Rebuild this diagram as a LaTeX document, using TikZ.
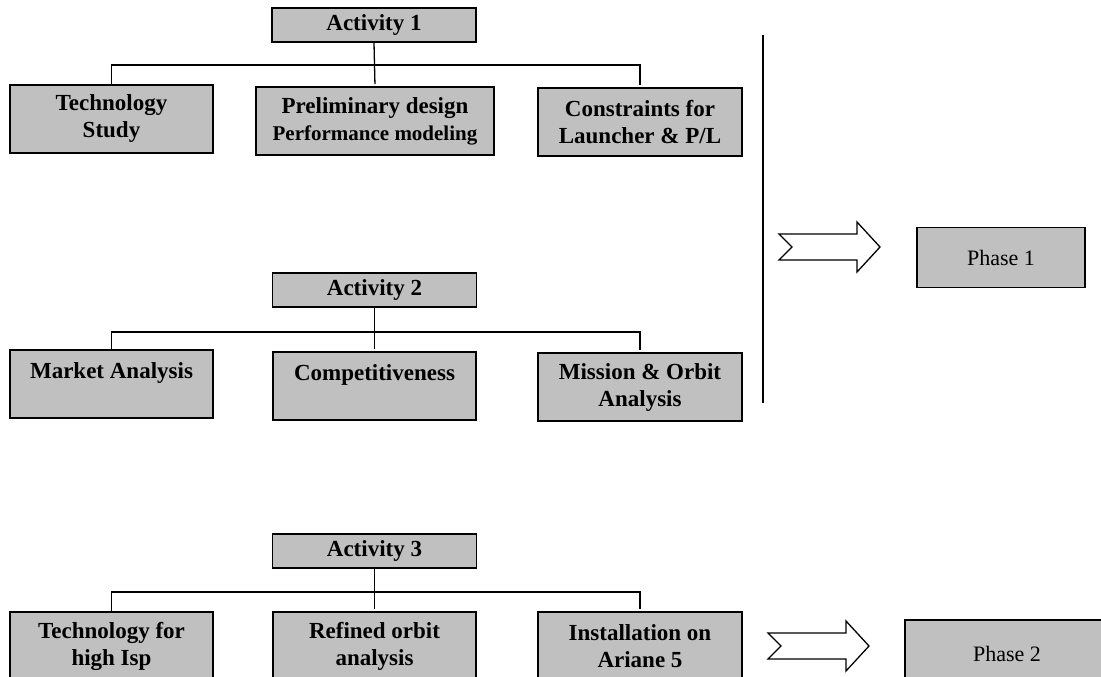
\documentclass[tikz,border=0pt]{standalone}
\usepackage{fontspec}
\setmainfont{Liberation Serif}
\usepackage{tikz}

\definecolor{boxgray}{HTML}{C0C0C0}

\tikzset{
    actbox/.style={draw, fill=boxgray, line width=1.6pt, inner sep=0pt,
        minimum width=204pt, minimum height=34pt,
        font=\bfseries\fontsize{23}{27}\selectfont},
    taskbox/.style={draw, fill=boxgray, line width=1.6pt, inner sep=0pt,
        minimum width=204pt, minimum height=68pt, align=center,
        font=\bfseries\fontsize{23}{27}\selectfont},
    phasebox/.style={draw, fill=boxgray, line width=1.4pt, inner sep=0pt,
        minimum height=60pt, font=\fontsize{22}{27}\selectfont},
    tree/.style={line width=1.3pt, shorten >=2pt},
    fatarrow/.pic={
        \draw[line width=1.3pt, fill=white, line join=miter]
            (0,-13) -- (78,-13) -- (78,-25) -- (101,0) -- (78,25)
            -- (78,13) -- (0,13) -- (13,0) -- cycle;
    }
}

\begin{document}
\begin{tikzpicture}[x=1pt,y=-1pt]
                \useasboundingbox (0,0) rectangle (1101,677);

                % activity 1
                \node[actbox] (act1) at (374,25) {Activity 1};
                \node[taskbox, minimum width=203pt] (techstudy) at (111.5,119) {Technology\\Study};
                \node[taskbox, minimum width=238pt] (prelim) at (375,121)
                    {Preliminary design\\{\fontsize{21}{27}\selectfont Performance modeling}};
                \node[taskbox] (constr) at (640,122) {Constraints for\\Launcher \& P/L};
                \coordinate (bar1) at (374,65);
                \draw[tree] (act1.south) -- (prelim.north);
                \draw[tree] (techstudy.north) |- (bar1) -| (constr.north);

                % activity 2
                \node[actbox] (act2) at (374.5,290) {Activity 2};
                \node[taskbox, minimum width=203pt] (market) at (111.5,384) {Market Analysis\\\mbox{}};
                \node[taskbox, minimum width=203pt] (compet) at (374.5,386) {Competitiveness\\\mbox{}};
                \node[taskbox] (mission) at (640,387) {Mission \& Orbit\\Analysis};
                \coordinate (bar2) at (374.5,332);
                \draw[tree] (act2.south) -- (compet.north);
                \draw[tree] (market.north) |- (bar2) -| (mission.north);

                % separator and phase 1
                \draw[line width=1.3pt] (763,35) -- (763,403);
                \pic at (779,247) {fatarrow};
                \node[phasebox, minimum width=168pt] (phase1) at (1001,257.5) {Phase 1};

                % activity 3
                \node[actbox] (act3) at (374.5,551) {Activity 3};
                \node[taskbox, minimum width=203pt] (techisp) at (111.5,646) {Technology for\\high Isp};
                \node[taskbox, minimum width=203pt] (refined) at (374.5,646) {Refined orbit\\analysis};
                \node[taskbox] (install) at (640,646) {Installation on\\Ariane 5};
                \coordinate (bar3) at (374.5,592);
                \draw[tree] (act3.south) -- (refined.north);
                \draw[tree] (techisp.north) |- (bar3) -| (install.north);

                % phase 2
                \pic at (768,646) {fatarrow};
                \node[phasebox, minimum width=204pt, minimum height=68pt] (phase2) at (1007,654) {Phase 2};
            \end{tikzpicture}
\end{document}
